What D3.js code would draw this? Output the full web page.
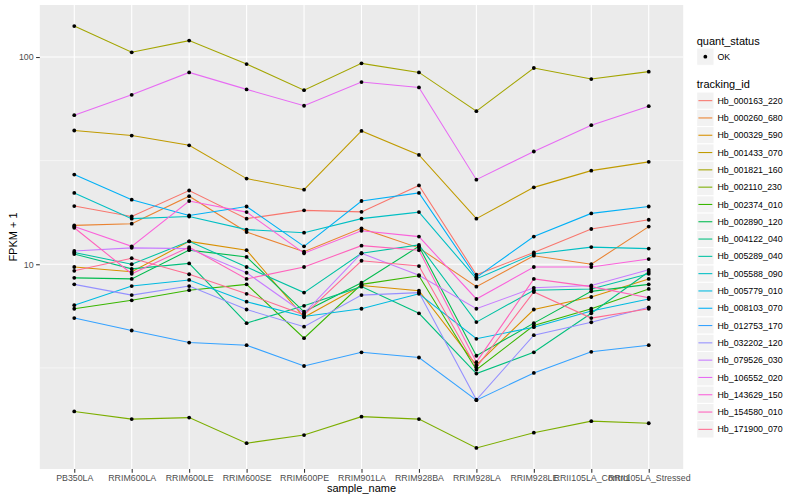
<!DOCTYPE html>
<html>
<head>
<meta charset="utf-8">
<script src="https://cdn.jsdelivr.net/npm/d3@7"></script>
<style>
  body { margin: 0; background: #fff; }
  text { font-family: "Liberation Sans", Arial, sans-serif; }
</style>
</head>
<body>
<script>
// sample names on the x axis
var samples = ["PB350LA", "RRIM600LA", "RRIM600LE", "RRIM600SE", "RRIM600PE", "RRIM901LA",
  "RRIM928BA", "RRIM928LA", "RRIM928LE", "RRII105LA_Control", "RRII105LA_Stressed"];

// FPKM + 1 per gene, one value per sample
var hb_000163_220 = [19.1, 17.0, 22.7, 16.6, 18.2, 17.9, 24.0, 8.9, 11.4, 14.8, 16.4];
var hb_000260_680 = [15.4, 15.7, 21.3, 14.3, 11.5, 14.9, 12.0, 7.8, 11.0, 10.0, 15.2];
var hb_000329_590 = [9.7, 9.2, 12.9, 11.7, 5.55, 7.9, 7.45, 3.26, 6.05, 6.95, 8.5];
var hb_001433_070 = [44.2, 41.8, 37.5, 25.9, 22.9, 44.0, 33.7, 16.6, 23.5, 28.3, 31.2];
var hb_001821_160 = [141, 105.4, 120, 92.5, 69.2, 93.2, 84.3, 54.8, 88.5, 78.3, 85];
var hb_002110_230 = [1.95, 1.79, 1.82, 1.37, 1.50, 1.84, 1.79, 1.30, 1.54, 1.75, 1.71];
var hb_002374_010 = [6.1, 6.7, 7.5, 8.0, 4.4, 8.0, 8.8, 3.10, 5.06, 6.1, 7.6];
var hb_002890_120 = [8.6, 8.5, 11.7, 10.85, 5.9, 8.15, 12.2, 3.62, 5.2, 7.4, 8.0];
var hb_004122_040 = [11.2, 9.5, 10.1, 5.2, 6.3, 7.8, 5.8, 2.97, 3.76, 5.8, 9.2];
var hb_005289_040 = [11.4, 10.0, 12.9, 9.7, 7.3, 11.3, 12.4, 5.26, 7.5, 7.6, 9.0];
var hb_005588_090 = [22.1, 16.6, 17.0, 14.7, 14.2, 16.6, 17.85, 8.5, 11.2, 12.1, 11.9];
var hb_005779_010 = [6.35, 7.85, 8.4, 6.6, 5.6, 6.1, 7.2, 4.37, 4.97, 5.95, 6.8];
var hb_008103_070 = [27.1, 20.5, 17.2, 19.0, 12.2, 20.2, 22.1, 8.65, 13.6, 17.6, 19.0];
var hb_012753_170 = [5.50, 4.79, 4.19, 4.07, 3.23, 3.76, 3.55, 2.21, 2.99, 3.78, 4.07];
var hb_032202_120 = [8.0, 7.1, 7.85, 6.05, 5.0, 7.1, 7.3, 2.22, 4.55, 5.25, 6.2];
var hb_079526_030 = [11.6, 12.0, 11.9, 9.1, 5.8, 11.3, 8.85, 6.1, 7.7, 7.9, 9.4];
var hb_106552_020 = [52.4, 65.7, 84.3, 69.8, 58.2, 75.7, 71.3, 25.6, 35, 46.9, 57.9];
var hb_143629_150 = [15.2, 12.2, 20.2, 17.85, 11.3, 14.5, 13.6, 6.8, 9.7, 9.7, 10.6];
var hb_154580_010 = [15.0, 9.0, 12.1, 8.5, 9.7, 12.3, 11.7, 3.37, 8.5, 7.8, 6.9];
var hb_171900_070 = [9.3, 10.7, 8.95, 7.2, 5.7, 10.4, 9.8, 3.18, 7.35, 5.5, 6.1];

var trackingIds = ["Hb_000163_220", "Hb_000260_680", "Hb_000329_590", "Hb_001433_070",
  "Hb_001821_160", "Hb_002110_230", "Hb_002374_010", "Hb_002890_120", "Hb_004122_040",
  "Hb_005289_040", "Hb_005588_090", "Hb_005779_010", "Hb_008103_070", "Hb_012753_170",
  "Hb_032202_120", "Hb_079526_030", "Hb_106552_020", "Hb_143629_150", "Hb_154580_010",
  "Hb_171900_070"];
var trackingValues = [hb_000163_220, hb_000260_680, hb_000329_590, hb_001433_070,
  hb_001821_160, hb_002110_230, hb_002374_010, hb_002890_120, hb_004122_040,
  hb_005289_040, hb_005588_090, hb_005779_010, hb_008103_070, hb_012753_170,
  hb_032202_120, hb_079526_030, hb_106552_020, hb_143629_150, hb_154580_010,
  hb_171900_070];
var yTicks = [10, 100];
var yMinor = [Math.pow(10, 0.5), Math.pow(10, 1.5)];
var quantStatus = ["OK"];

// ggplot default hue palette for 20 levels
var colours = ["#F8766D", "#EA8331", "#D89000", "#C09B00", "#A3A500", "#7CAE00", "#39B600",
  "#00BB4E", "#00BF7D", "#00C1A3", "#00BFC4", "#00BAE0", "#00B0F6", "#35A2FF", "#9590FF",
  "#C77CFF", "#E76BF3", "#FA62DB", "#FF62BC", "#FF6C91"];

var svgWidth = 800, svgHeight = 500;
var panel = {left: 39.8, right: 683.2, top: 5, bottom: 469};

var series = trackingIds.map(function(id, i) {
  return {id: id, colour: colours[i],
    values: trackingValues[i].map(function(v, j) { return {sample: samples[j], value: v}; })};
});

var svg = d3.select("body").append("svg")
  .attr("width", svgWidth)
  .attr("height", svgHeight);

// scales
var x = d3.scalePoint().domain(samples).range([panel.left, panel.right]).padding(0.6);

var allValues = d3.merge(trackingValues);
var lo = Math.log10(d3.min(allValues)), hi = Math.log10(d3.max(allValues));
var pad = (hi - lo) * 0.05;
var y = d3.scaleLog()
  .domain([Math.pow(10, lo - pad), Math.pow(10, hi + pad)])
  .range([panel.bottom, panel.top]);

// panel background + grid
svg.append("rect")
  .attr("x", panel.left).attr("y", panel.top)
  .attr("width", panel.right - panel.left).attr("height", panel.bottom - panel.top)
  .attr("fill", "#EBEBEB");

svg.append("g").selectAll("line").data(yMinor).enter().append("line")
  .attr("x1", panel.left).attr("x2", panel.right)
  .attr("y1", function(d) { return y(d); }).attr("y2", function(d) { return y(d); })
  .attr("stroke", "#fff").attr("stroke-width", 0.55);

svg.append("g").selectAll("line").data(yTicks).enter().append("line")
  .attr("x1", panel.left).attr("x2", panel.right)
  .attr("y1", function(d) { return y(d); }).attr("y2", function(d) { return y(d); })
  .attr("stroke", "#fff").attr("stroke-width", 1.1);

svg.append("g").selectAll("line").data(samples).enter().append("line")
  .attr("x1", function(d) { return x(d); }).attr("x2", function(d) { return x(d); })
  .attr("y1", panel.top).attr("y2", panel.bottom)
  .attr("stroke", "#fff").attr("stroke-width", 1.1);

// lines then points
var line = d3.line()
  .x(function(d) { return x(d.sample); })
  .y(function(d) { return y(d.value); });

svg.append("g").selectAll("path").data(series).enter().append("path")
  .attr("d", function(d) { return line(d.values); })
  .attr("fill", "none")
  .attr("stroke", function(d) { return d.colour; })
  .attr("stroke-width", 1.07);

svg.append("g").selectAll("g").data(series).enter().append("g")
  .selectAll("circle").data(function(d) { return d.values; }).enter().append("circle")
  .attr("cx", function(d) { return x(d.sample); })
  .attr("cy", function(d) { return y(d.value); })
  .attr("r", 1.9)
  .attr("fill", "#000");

// axes
var xAxis = svg.append("g")
  .attr("transform", "translate(0," + panel.bottom + ")")
  .call(d3.axisBottom(x).tickSize(3.7).tickPadding(2.5));
var yAxis = svg.append("g")
  .attr("transform", "translate(" + panel.left + ",0)")
  .call(d3.axisLeft(y).tickValues(yTicks).tickFormat(d3.format("d")).tickSize(3.7).tickPadding(2.5));

[xAxis, yAxis].forEach(function(a) {
  a.select(".domain").remove();
  a.selectAll(".tick line").attr("stroke", "#333333").attr("stroke-width", 1.07);
  a.selectAll(".tick text").attr("fill", "#4D4D4D").style("font-size", "8.8px")
    .style("font-family", "'Liberation Sans', Arial, sans-serif");
});

// axis titles
svg.append("text")
  .attr("x", (panel.left + panel.right) / 2)
  .attr("y", 492)
  .attr("text-anchor", "middle")
  .style("font-size", "11px")
  .text("sample_name");

svg.append("text")
  .attr("transform", "translate(17," + ((panel.top + panel.bottom) / 2) + ") rotate(-90)")
  .attr("text-anchor", "middle")
  .style("font-size", "11px")
  .text("FPKM + 1");

// legends
var legendX = 696.7, keySize = 17.3;
var legend = svg.append("g");

legend.append("text").attr("x", legendX).attr("y", 44.5)
  .style("font-size", "11px").text("quant_status");

var qs = legend.selectAll(".qs").data(quantStatus).enter().append("g")
  .attr("transform", function(d, i) { return "translate(" + legendX + "," + (48 + i * keySize) + ")"; });
qs.append("rect").attr("width", keySize).attr("height", keySize)
  .attr("fill", "#F2F2F2").attr("stroke", "#fff").attr("stroke-width", 1);
qs.append("circle").attr("cx", keySize / 2).attr("cy", keySize / 2).attr("r", 1.9).attr("fill", "#000");
qs.append("text").attr("x", keySize + 3.5).attr("y", keySize / 2 + 3.1)
  .style("font-size", "8.8px").text(function(d) { return d; });

legend.append("text").attr("x", legendX).attr("y", 88)
  .style("font-size", "11px").text("tracking_id");

var items = legend.selectAll(".tid").data(series).enter().append("g")
  .attr("transform", function(d, i) { return "translate(" + legendX + "," + (92 + i * keySize) + ")"; });
items.append("rect").attr("width", keySize).attr("height", keySize)
  .attr("fill", "#F2F2F2").attr("stroke", "#fff").attr("stroke-width", 1);
items.append("line")
  .attr("x1", 1.7).attr("x2", keySize - 1.7)
  .attr("y1", keySize / 2).attr("y2", keySize / 2)
  .attr("stroke", function(d) { return d.colour; })
  .attr("stroke-width", 1.07);
items.append("text").attr("x", keySize + 3.5).attr("y", keySize / 2 + 3.1)
  .style("font-size", "8.8px").text(function(d) { return d.id; });
</script>
</body>
</html>
